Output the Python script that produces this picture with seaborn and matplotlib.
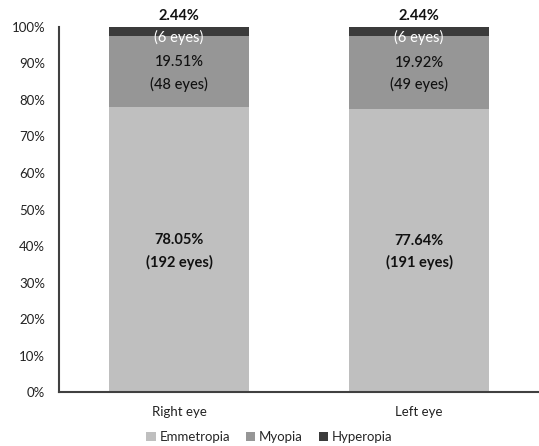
import matplotlib
matplotlib.use("Agg")
import matplotlib.pyplot as plt
import seaborn as sns
import pandas as pd
import numpy as np
from matplotlib.patches import Patch

# Eye counts per refractive group
eyes = ["Right eye", "Left eye"]
emmetropia = [192, 191]
myopia = [48, 49]
hyperopia = [6, 6]
groups = ["Emmetropia", "Myopia", "Hyperopia"]
colors = ["#bfbfbf", "#969696", "#3b3b3b"]

sns.set_theme(style="white")
plt.rcParams["font.family"] = ["Lato", "DejaVu Sans"]

counts = np.array([emmetropia, myopia, hyperopia], dtype=float)
totals = counts.sum(axis=0)
pct = counts / totals * 100
cum = np.cumsum(pct, axis=0)

df = pd.DataFrame({"eye": eyes})
for i, g in enumerate(groups):
    df[g + "_top"] = cum[i]

fig = plt.figure(figsize=(5.39, 4.46), dpi=100)
ax = fig.add_axes([0.1095, 0.121, 0.8905, 0.8185])

# stacked bars drawn back-to-front from cumulative tops
for i in reversed(range(len(groups))):
    sns.barplot(data=df, x="eye", y=groups[i] + "_top", color=colors[i],
                width=0.58, ax=ax, saturation=1, linewidth=0)

ax.set_xlim(-0.5, 1.5)
ax.set_ylim(0, 100)
ax.set_yticks(np.arange(0, 101, 10))
ax.set_yticklabels([f"{v}%" for v in range(0, 101, 10)])
ax.set_xlabel("")
ax.set_ylabel("")
ax.tick_params(axis="both", length=0, labelsize=9.5, colors="#222222")
ax.tick_params(axis="x", pad=10)
ax.tick_params(axis="y", pad=10)
for s in ["top", "right"]:
    ax.spines[s].set_visible(False)
for s in ["left", "bottom"]:
    ax.spines[s].set_color("#404040")
    ax.spines[s].set_linewidth(1.5)

fs = 10.5
dark = "#111111"
for j in range(len(eyes)):
    # emmetropia
    c = pct[0, j] / 2
    ax.annotate(f"{pct[0, j]:.2f}%", (j, c), xytext=(0, 7), textcoords="offset points",
                ha="center", va="center", fontsize=fs, fontweight="bold", color=dark)
    ax.annotate(f"({int(counts[0, j])} eyes)", (j, c), xytext=(0, -9), textcoords="offset points",
                ha="center", va="center", fontsize=fs, fontweight="bold", color=dark)
    # myopia
    c = cum[0, j] + pct[1, j] / 2
    ax.annotate(f"{pct[1, j]:.2f}%", (j, c), xytext=(0, 7), textcoords="offset points",
                ha="center", va="center", fontsize=fs, fontweight="medium", color=dark)
    ax.annotate(f"({int(counts[1, j])} eyes)", (j, c), xytext=(0, -9), textcoords="offset points",
                ha="center", va="center", fontsize=fs, fontweight="medium", color=dark)
    # hyperopia
    c = cum[1, j] + pct[2, j] / 2
    ax.annotate(f"{pct[2, j]:.2f}%", (j, c), xytext=(0, 11), textcoords="offset points",
                ha="center", va="center", fontsize=fs, fontweight="bold", color=dark,
                annotation_clip=False)
    ax.annotate(f"({int(counts[2, j])} eyes)", (j, c), xytext=(0, -4), textcoords="offset points",
                ha="center", va="center", fontsize=fs, color="white")

handles = [Patch(facecolor=c, edgecolor="none", label=g) for g, c in zip(groups, colors)]
fig.legend(handles=handles, loc="center", bbox_to_anchor=(0.5, 0.02), ncol=3,
           frameon=False, fontsize=9.5, handlelength=0.7, handleheight=0.7,
           handletextpad=0.3, columnspacing=1.2)

fig.savefig("out.png", dpi=100)
